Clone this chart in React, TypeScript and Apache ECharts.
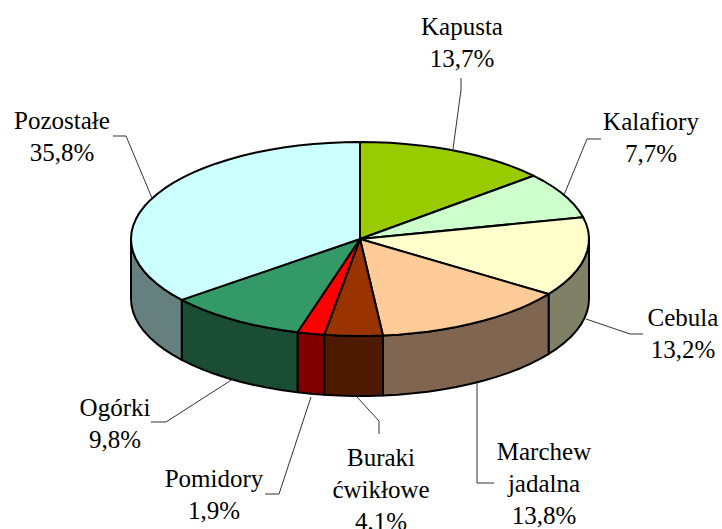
import React, { useEffect, useRef } from "react";
import * as echarts from "echarts";

const categories = ["Kapusta", "Kalafiory", "Cebula", "Marchew jadalna", "Buraki ćwikłowe", "Pomidory", "Ogórki", "Pozostałe"];
const values = [13.7, 7.7, 13.2, 13.8, 4.1, 1.9, 9.8, 35.8];
const topColors = ["#99CC00", "#CCFFCC", "#FFFFCC", "#FFCC99", "#993300", "#FF0000", "#339966", "#CCFFFF"];
const sideColors = ["#4D6600", "#668066", "#808066", "#806650", "#4D1A00", "#800000", "#1A4D33", "#668080"];
const labelLines = [["Kapusta"], ["Kalafiory"], ["Cebula"], ["Marchew", "jadalna"], ["Buraki", "ćwikłowe"], ["Pomidory"], ["Ogórki"], ["Pozostałe"]];

const CX = 360, CY = 239, RX = 229, RY = 97, DEPTH = 60;
const total = values.reduce((a, b) => a + b, 0);
const labelCenters = [[462, 26], [651, 121], [683, 317], [544, 451], [381, 457], [214, 478], [115, 407], [62, 120]];
const leaders = [
  [[453, 149], [461, 90], [461, 78]],
  [[564, 195], [587, 139], [601, 139]],
  [[586, 319], [630, 334], [643, 334]],
  [[477, 383], [477, 483], [494, 483]],
  [[357, 397], [379, 421], [379, 434]],
  [[311, 397], [279, 494], [265, 494]],
  [[233, 379], [166, 422], [151, 422]],
  [[152, 198], [126, 136], [113, 136]],
];

const pt = (deg: number, dy = 0) => {
  const r = (deg * Math.PI) / 180;
  return [CX + RX * Math.sin(r), CY - RY * Math.cos(r) + dy];
};
const arc = (a: number, b: number, dy = 0) => {
  const out: number[][] = [];
  const n = Math.max(1, Math.ceil((b - a) / 4));
  for (let i = 0; i <= n; i++) out.push(pt(a + ((b - a) * i) / n, dy));
  return out;
};

export default function App() {
  const ref = useRef<HTMLDivElement>(null);
  useEffect(() => {
    const chart = echarts.init(ref.current!, null, { renderer: "svg" });
    let acc = 0;
    const ranges = values.map((v) => {
      const a = (acc / total) * 360;
      acc += v;
      return [a, (acc / total) * 360];
    });
    const stroke = { stroke: "#000", lineWidth: 2, lineJoin: "round" };
    const sides = ranges.flatMap(([a, b], i) => {
      const s = Math.max(a, 90), e = Math.min(b, 270);
      if (s >= e) return [];
      return [{
        type: "polygon",
        shape: { points: [...arc(s, e), ...arc(s, e, DEPTH).reverse()] },
        style: { fill: sideColors[i], ...stroke },
      }];
    });
    const tops = ranges.map(([a, b], i) => ({
      type: "polygon",
      shape: { points: [[CX, CY], ...arc(a, b)] },
      style: { fill: topColors[i], ...stroke },
    }));
    const lines = leaders.map((points) => ({
      type: "polyline",
      shape: { points },
      style: { stroke: "#333", lineWidth: 1, fill: "none" },
    }));
    const labels = categories.flatMap((_, i) => {
      const rows = [...labelLines[i], `${String(values[i]).replace(".", ",")}%`];
      return rows.map((text, j) => ({
        type: "text",
        x: labelCenters[i][0],
        y: labelCenters[i][1] + j * 32.3,
        style: {
          text,
          fill: "#000",
          fontFamily: "Liberation Serif",
          fontSize: 25,
          align: "center",
          verticalAlign: "middle",
        },
      }));
    });
    chart.setOption({
      animation: false,
      backgroundColor: "#fff",
      series: [{
        type: "custom",
        coordinateSystem: "none",
        silent: true,
        clip: false,
        data: [0],
        renderItem: () => ({ type: "group", children: [...sides, ...tops, ...lines, ...labels] }),
      }],
    });
    return () => chart.dispose();
  }, []);
  return <div ref={ref} style={{ position: "fixed", left: 0, top: 0, width: 722, height: 529 }} />;
}
